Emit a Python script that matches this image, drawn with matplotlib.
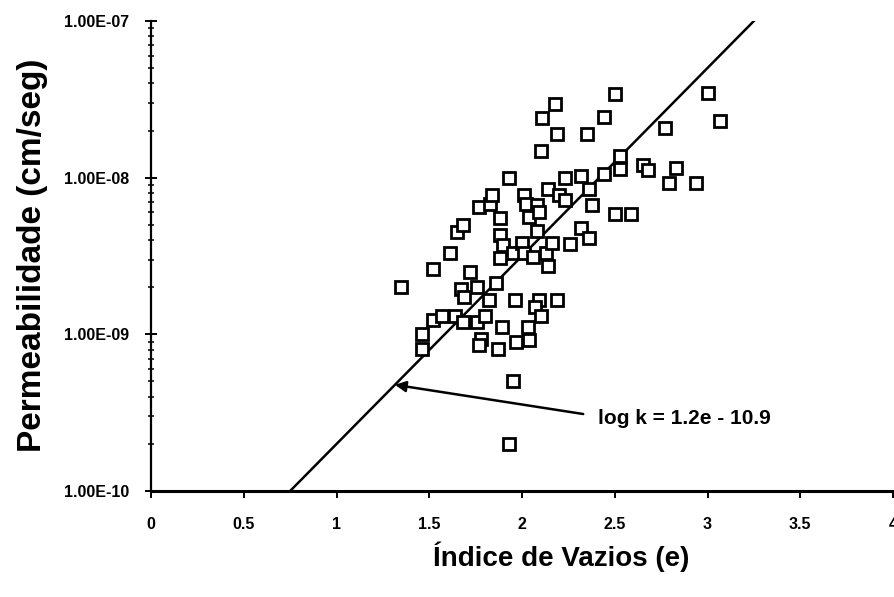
import numpy as np
import matplotlib
matplotlib.use("Agg")
import matplotlib.pyplot as plt
from matplotlib.ticker import FuncFormatter, LogLocator, NullFormatter

plt.rcParams['font.family'] = ['Liberation Sans', 'DejaVu Sans']
plt.rcParams['font.weight'] = 'bold'

# void ratio e  vs  permeability k (cm/seg)
e_vals = [1.35, 1.46, 1.46, 1.52, 1.52, 1.57, 1.61, 1.64, 1.65, 1.68,
          1.68, 1.72, 1.67, 1.69, 1.76, 1.76, 1.80, 1.77, 1.83, 1.84,
          1.88, 1.88, 1.90, 1.88, 1.86, 1.82, 1.78, 1.77, 1.89, 1.87,
          1.93, 1.95, 1.96, 1.97, 1.95, 1.93, 2.01, 2.02, 2.04, 2.00,
          2.01, 2.03, 2.04, 2.08, 2.09, 2.08, 2.06, 2.09, 2.07, 2.10,
          2.11, 2.10, 2.18, 2.19, 2.14, 2.20, 2.23, 2.23, 2.13, 2.14,
          2.16, 2.19, 2.26, 2.32, 2.32, 2.35, 2.36, 2.38, 2.36, 2.44,
          2.44, 2.50, 2.50, 2.53, 2.53, 2.59, 2.65, 2.68, 2.77, 2.79,
          2.83, 2.94, 3.00, 3.07]
k_vals = [2.0e-9, 1.0e-9, 8.1e-10, 1.23e-9, 2.6e-9, 1.3e-9, 3.3e-9, 1.3e-9, 4.5e-9, 5.0e-9,
          1.19e-9, 2.5e-9, 1.94e-9, 1.72e-9, 2.0e-9, 1.19e-9, 1.3e-9, 6.5e-9, 6.8e-9, 7.7e-9,
          5.5e-9, 4.3e-9, 3.7e-9, 3.05e-9, 2.14e-9, 1.65e-9, 9.3e-10, 8.6e-10, 1.12e-9, 8.1e-10,
          1.0e-8, 3.3e-9, 1.65e-9, 9.0e-10, 5.0e-10, 2.0e-10, 7.8e-9, 6.8e-9, 5.6e-9, 3.85e-9,
          3.3e-9, 1.12e-9, 9.2e-10, 6.7e-9, 6.0e-9, 4.6e-9, 3.1e-9, 1.65e-9, 1.5e-9, 1.3e-9,
          2.41e-8, 1.49e-8, 2.96e-8, 1.9e-8, 8.5e-9, 7.7e-9, 7.2e-9, 1.0e-8, 3.3e-9, 2.75e-9,
          3.85e-9, 1.65e-9, 3.8e-9, 4.8e-9, 1.03e-8, 1.9e-8, 8.5e-9, 6.7e-9, 4.1e-9, 2.45e-8,
          1.06e-8, 5.9e-9, 3.43e-8, 1.38e-8, 1.14e-8, 5.9e-9, 1.21e-8, 1.12e-8, 2.08e-8, 9.2e-9,
          1.16e-8, 9.2e-9, 3.48e-8, 2.31e-8]

# regression: log k = a*e + b
fit_a = 1.2
fit_b = -10.9
fit_label = "log k = 1.2e - 10.9"

fig = plt.figure(figsize=(8.94, 5.97), dpi=100)
ax = fig.add_axes([151/894, 106/597, 742/894, 470/597])

ax.plot(e_vals, k_vals, linestyle='none', marker='s', markersize=8.5,
        markerfacecolor='white', markeredgecolor='black', markeredgewidth=2.0,
        clip_on=False, zorder=3)

e_line = np.array([0.0, 4.0])
ax.plot(e_line, 10 ** (fit_a * e_line + fit_b), color='black', lw=1.8, zorder=2)

e_arrow = 1.315
ax.annotate("", xy=(e_arrow, 10 ** (fit_a * e_arrow + fit_b)),
            xytext=(2.33, 3.1e-10),
            arrowprops=dict(arrowstyle='-|>', color='black', lw=1.8,
                            mutation_scale=16, shrinkA=0, shrinkB=0))
ax.text(2.41, 2.92e-10, fit_label, fontsize=15, fontweight='bold',
        ha='left', va='center')

ax.set_yscale('log')
ax.set_xlim(0, 4)
ax.set_ylim(1e-10, 1e-7)
ax.set_xticks([0, 0.5, 1, 1.5, 2, 2.5, 3, 3.5, 4])
ax.set_xticklabels(['0', '0.5', '1', '1.5', '2', '2.5', '3', '3.5', '4'])
ax.yaxis.set_major_locator(LogLocator(base=10, numticks=10))
ax.yaxis.set_minor_locator(LogLocator(base=10, subs=np.arange(2, 10), numticks=10))
ax.yaxis.set_major_formatter(FuncFormatter(lambda v, p: f"{v:.2E}"))
ax.yaxis.set_minor_formatter(NullFormatter())

ax.spines['top'].set_visible(False)
ax.spines['right'].set_visible(False)
ax.spines['left'].set_linewidth(1.6)
ax.spines['bottom'].set_linewidth(2.2)

ax.tick_params(axis='x', direction='out', length=5, width=1.4, pad=14, labelsize=11.5)
ax.tick_params(axis='y', which='major', direction='inout', length=9, width=1.4,
               pad=11, labelsize=11.5)
ax.tick_params(axis='y', which='minor', direction='inout', length=5, width=1.1)
for lab in ax.get_xticklabels() + ax.get_yticklabels():
    lab.set_fontweight('bold')

ax.set_xlabel("Índice de Vazios (e)", fontsize=20, fontweight='bold')
ax.set_ylabel("Permeabilidade (cm/seg)", fontsize=24, fontweight='bold')
ax.xaxis.set_label_coords(0.553, -0.14)
ax.yaxis.set_label_coords(-0.160, 0.502)
ax.xaxis.label.set_va('center')
ax.yaxis.label.set_va('center')

fig.savefig("out.png", dpi=100)
